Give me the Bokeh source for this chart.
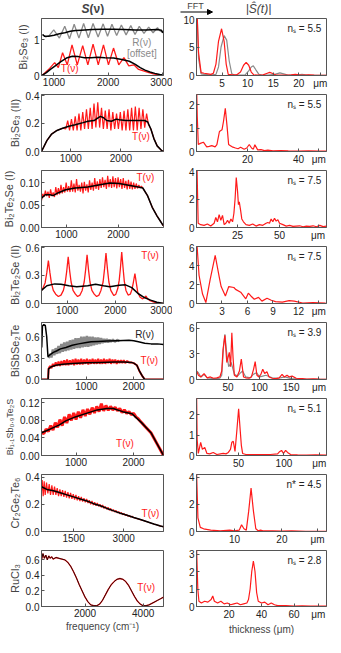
from bokeh.plotting import figure
from bokeh.layouts import gridplot, column
from bokeh.models import FixedTicker, NumeralTickFormatter, Label, Arrow, NormalHead
from bokeh.embed import file_html
from bokeh.resources import INLINE
from bokeh.core.properties import value

FONT = "Liberation Sans"
RED = "#ff1a1a"
GRAY = "#8a8a8a"

# ---------------- Panel 1 : Bi2Se3 (I) ----------------
p1_T_x = [780, 850, 920, 1013, 1080, 1159, 1245, 1333, 1430, 1530, 1625, 1721, 1817, 1913, 2005, 2098, 2195, 2290, 2380, 2474, 2560, 2650, 2750, 2850, 2950, 3010]
p1_T_y = [0.0, 0.1, 0.2, 0.36, 0.22, 0.64, 0.3, 0.86, 0.3, 0.84, 0.3, 0.88, 0.3, 0.86, 0.3, 0.77, 0.3, 0.5, 0.27, 0.3, 0.17, 0.13, 0.08, 0.04, 0.02, 0.01]
p1_Tfit_x = [780, 860, 940, 1030, 1120, 1230, 1340, 1450, 1560, 1680, 1810, 1940, 2100, 2250, 2390, 2500, 2590, 2680, 2770, 2860, 2950, 3010]
p1_Tfit_y = [0.0, 0.08, 0.18, 0.28, 0.38, 0.49, 0.54, 0.53, 0.5, 0.5, 0.51, 0.5, 0.49, 0.45, 0.4, 0.31, 0.22, 0.15, 0.1, 0.06, 0.03, 0.02]
p1_R_x = [790, 850, 910, 996, 1100, 1199, 1286, 1373, 1460, 1547, 1634, 1721, 1814, 1907, 1988, 2069, 2156, 2243, 2330, 2417, 2495, 2573, 2660, 2747, 2828, 2909, 2960, 3010]
p1_R_y = [1.15, 1.08, 1.12, 1.28, 1.05, 1.38, 1.03, 1.44, 1.05, 1.46, 1.06, 1.46, 1.08, 1.45, 1.1, 1.44, 1.12, 1.42, 1.14, 1.4, 1.15, 1.38, 1.18, 1.36, 1.2, 1.34, 1.25, 1.2]
p1_Rfit_x = [790, 830, 900, 1000, 1100, 1200, 1300, 1400, 1500, 1700, 1900, 2100, 2300, 2500, 2700, 2900, 2980, 3010]
p1_Rfit_y = [1.15, 1.1, 1.1, 1.13, 1.17, 1.2, 1.24, 1.26, 1.27, 1.29, 1.3, 1.3, 1.29, 1.28, 1.28, 1.29, 1.27, 1.2]
f1_x = [0, 0.4, 0.9, 1.5, 2.2, 2.8, 3.3, 3.8, 4.3, 4.9, 5.4, 5.8, 6.2, 7, 7.8, 8.6, 9.2, 9.7, 10.2, 10.7, 11.2, 12, 13, 13.7, 14.3, 14.9, 15.6, 16.5, 17.5, 18.5, 19.3, 20.1, 21, 22, 23, 24, 25.4]
f1_y = [14, 4, 0.5, 0.4, 0.3, 0.2, 0.4, 2.0, 6.0, 8.2, 6.0, 2.0, 0.2, 0.1, 0.1, 0.6, 1.8, 2.3, 1.8, 0.6, 0.1, 0.05, 0.1, 0.35, 0.55, 0.35, 0.05, 0.05, 0.05, 0.1, 0.2, 0.1, 0.05, 0.1, 0.05, 0.03, 0.02]
f1g_x = [0, 0.4, 0.9, 1.5, 2.2, 3, 3.8, 4.3, 4.8, 5.4, 5.9, 6.4, 6.9, 7.5, 8.5, 9.5, 10.2, 10.7, 11.1, 11.6, 12.2, 13, 14, 15.3, 16.3, 17.2, 18, 19, 20, 20.6, 21.3, 22, 23, 25.4]
f1g_y = [14, 3, 0.3, 0.2, 0.15, 0.1, 0.2, 1.5, 5.0, 7.0, 6.2, 2.5, 0.3, 0.05, 0.05, 0.1, 0.8, 1.5, 1.7, 1.0, 0.2, 0.05, 0.05, 0.2, 0.45, 0.25, 0.05, 0.05, 0.1, 0.2, 0.1, 0.05, 0.03, 0.02]

# ---------------- Panel 2 : Bi2Se3 (II) ----------------
p2_T_x = [415, 522, 617, 711, 836, 900, 938, 975, 1013, 1050, 1088, 1125, 1163, 1200, 1238, 1275, 1313, 1350, 1388, 1425, 1463, 1500, 1538, 1575, 1613, 1650, 1688, 1725, 1763, 1800, 1838, 1875, 1913, 1950, 1988, 2025, 2063, 2100, 2138, 2175, 2213, 2250, 2288, 2325, 2363, 2400, 2438, 2475, 2513, 2550, 2598, 2660, 2723, 2817, 2850]
p2_T_y = [0.0, 0.077, 0.124, 0.147, 0.165, 0.16, 0.22, 0.15, 0.23, 0.15, 0.25, 0.15, 0.27, 0.15, 0.28, 0.16, 0.3, 0.16, 0.31, 0.16, 0.34, 0.17, 0.35, 0.17, 0.31, 0.16, 0.29, 0.16, 0.3, 0.15, 0.28, 0.16, 0.27, 0.16, 0.28, 0.15, 0.29, 0.15, 0.3, 0.15, 0.31, 0.15, 0.32, 0.15, 0.31, 0.16, 0.3, 0.17, 0.27, 0.19, 0.16, 0.09, 0.04, 0.005, 0.0]
p2_fit_x = [415, 522, 617, 711, 836, 962, 1088, 1245, 1340, 1465, 1528, 1591, 1654, 1717, 1811, 1906, 1968, 2094, 2283, 2472, 2535, 2598, 2660, 2723, 2817, 2850]
p2_fit_y = [0.0, 0.077, 0.124, 0.147, 0.165, 0.18, 0.19, 0.205, 0.215, 0.22, 0.235, 0.25, 0.24, 0.22, 0.215, 0.23, 0.225, 0.22, 0.22, 0.22, 0.21, 0.16, 0.09, 0.04, 0.005, 0.0]
f2_x = [0, 0.3, 0.7, 1.5, 2.7, 4, 5, 6, 7.3, 8, 9, 10, 10.6, 11.3, 12, 12.6, 13.3, 14, 15.3, 16.3, 17.3, 18.7, 19.7, 20.7, 21.6, 22.3, 22.9, 24, 25.3, 26.7, 28, 30, 33, 36, 40, 44, 48, 51]
f2_y = [3.0, 1.5, 0.3, 0.35, 0.4, 0.2, 0.22, 0.25, 0.2, 0.3, 0.86, 0.93, 1.3, 1.86, 1.07, 0.3, 0.25, 0.2, 0.15, 0.12, 0.18, 0.1, 0.15, 0.3, 0.15, 0.1, 0.29, 0.07, 0.08, 0.04, 0.06, 0.03, 0.04, 0.03, 0.02, 0.03, 0.02, 0.02]

# ---------------- Panel 3 : Bi2Te2Se (I) ----------------
p3_T_x = [520, 545, 570, 595, 620, 645, 670, 695, 720, 745, 770, 795, 820, 845, 870, 895, 920, 945, 970, 995, 1020, 1045, 1070, 1095, 1120, 1145, 1170, 1195, 1220, 1245, 1270, 1295, 1320, 1345, 1370, 1395, 1420, 1445, 1470, 1495, 1520, 1545, 1570, 1595, 1620, 1645, 1670, 1695, 1720, 1745, 1770, 1795, 1820, 1845, 1870, 1895, 1920, 1945, 1970, 1995, 2020, 2045, 2070, 2095, 2120, 2145, 2170, 2195, 2220, 2245, 2270, 2295, 2320, 2345, 2370, 2395, 2420, 2445, 2471, 2562, 2653, 2744, 2805, 2865]
p3_T_y = [0.06, 0.075, 0.068, 0.082, 0.07, 0.08, 0.066, 0.085, 0.07, 0.078, 0.068, 0.09, 0.072, 0.088, 0.074, 0.095, 0.076, 0.09, 0.078, 0.1, 0.08, 0.092, 0.079, 0.105, 0.08, 0.098, 0.078, 0.108, 0.082, 0.095, 0.08, 0.1, 0.076, 0.102, 0.082, 0.096, 0.078, 0.105, 0.084, 0.1, 0.082, 0.11, 0.086, 0.103, 0.084, 0.108, 0.088, 0.112, 0.09, 0.106, 0.086, 0.115, 0.09, 0.108, 0.088, 0.114, 0.09, 0.11, 0.087, 0.112, 0.09, 0.108, 0.086, 0.11, 0.088, 0.104, 0.085, 0.106, 0.086, 0.102, 0.085, 0.1, 0.086, 0.098, 0.087, 0.095, 0.088, 0.092, 0.088, 0.071, 0.045, 0.026, 0.015, 0.004]
p3_fit_x = [515, 593, 684, 744, 835, 987, 1169, 1411, 1593, 1835, 2016, 2198, 2380, 2471, 2562, 2653, 2744, 2805, 2865]
p3_fit_y = [0.065, 0.073, 0.073, 0.071, 0.077, 0.084, 0.088, 0.09, 0.094, 0.099, 0.098, 0.094, 0.09, 0.088, 0.071, 0.045, 0.026, 0.015, 0.004]
f3_x = [0.5, 0.8, 1.5, 3, 5, 7, 9, 11, 12, 13, 14, 15, 16, 17, 18, 19, 20, 21, 22, 22.8, 23.5, 24.2, 25, 25.5, 26, 26.8, 27.5, 28.5, 30, 32, 34, 36, 38, 40, 42, 43, 44, 45, 46, 47, 48, 49, 50, 52, 54, 56, 58, 60, 62, 64, 66, 68, 70, 72, 74, 76, 78]
f3_y = [4.5, 4.2, 0.3, 0.2, 0.15, 0.25, 0.1, 0.3, 0.7, 0.4, 0.9, 0.5, 0.85, 0.2, 0.3, 0.5, 0.3, 0.6, 0.4, 1.0, 2.0, 3.5, 2.5, 1.6, 1.8, 1.2, 0.6, 0.4, 0.2, 0.15, 0.25, 0.1, 0.2, 0.15, 0.3, 0.35, 0.3, 0.6, 0.4, 0.65, 0.45, 0.55, 0.3, 0.2, 0.1, 0.15, 0.08, 0.1, 0.12, 0.05, 0.1, 0.08, 0.12, 0.05, 0.15, 0.06, 0.1]

# ---------------- Panel 4 : Bi2Te2Se (II) ----------------
p4_T_x = [465, 500, 540, 575, 608, 640, 670, 710, 760, 815, 870, 920, 960, 990, 1020, 1050, 1080, 1120, 1170, 1215, 1265, 1310, 1352, 1382, 1412, 1442, 1472, 1512, 1560, 1610, 1660, 1700, 1745, 1775, 1805, 1835, 1865, 1905, 1950, 1970, 2010, 2050, 2080, 2105, 2132, 2160, 2185, 2220, 2265, 2310, 2345, 2375, 2406, 2435, 2465, 2510, 2560, 2600, 2636, 2670, 2720, 2800, 2900, 3000]
p4_T_y = [0.14, 0.17, 0.22, 0.33, 0.46, 0.33, 0.22, 0.14, 0.1, 0.075, 0.09, 0.14, 0.23, 0.35, 0.5, 0.35, 0.23, 0.14, 0.1, 0.075, 0.09, 0.14, 0.23, 0.36, 0.52, 0.36, 0.23, 0.14, 0.1, 0.075, 0.09, 0.14, 0.23, 0.37, 0.54, 0.37, 0.23, 0.14, 0.1, 0.085, 0.1, 0.16, 0.25, 0.38, 0.55, 0.38, 0.24, 0.14, 0.09, 0.1, 0.15, 0.23, 0.32, 0.22, 0.12, 0.07, 0.05, 0.06, 0.08, 0.05, 0.03, 0.015, 0.005, 0.0]
p4_fit_x = [465, 576, 739, 870, 1034, 1197, 1426, 1589, 1753, 1883, 2079, 2210, 2341, 2471, 2602, 2733, 2863, 2981, 3000]
p4_fit_y = [0.14, 0.19, 0.21, 0.207, 0.19, 0.18, 0.19, 0.207, 0.19, 0.18, 0.196, 0.2, 0.17, 0.107, 0.064, 0.036, 0.014, 0.004, 0.003]
f4_x = [0, 0.3, 0.71, 1.1, 1.6, 2.2, 2.7, 2.9, 3.4, 3.8, 4.4, 4.6, 5.2, 5.8, 6.1, 6.4, 6.8, 7.3, 7.7, 8.3, 8.8, 9.3, 10.1, 10.9, 11.5, 12.5, 13.7, 15.2]
f4_y = [7, 3, 1.0, 0.1, 2.5, 5.1, 2.7, 1.8, 0.8, 1.8, 1.7, 1.5, 1.2, 0.5, 1.1, 0.8, 0.45, 0.65, 0.25, 0.55, 0.35, 0.2, 0.15, 0.3, 0.25, 0.05, 0.1, 0.05]

# ---------------- Panel 5 : BiSbSe2Te ----------------
p5_R_x = [200, 230, 260, 290, 320, 350, 380, 410, 440, 470, 500, 530, 560, 590, 620, 650, 680, 710, 740, 770, 800, 830, 860, 890, 920, 950, 980, 1010, 1040, 1070, 1100, 1130, 1160, 1190, 1220, 1250, 1280, 1310, 1340, 1370, 1400, 1430, 1460, 1490, 1520, 1560, 1600, 1650, 1700]
p5_R_y = [0.3, 0.36, 0.31, 0.42, 0.34, 0.44, 0.36, 0.47, 0.37, 0.5, 0.39, 0.52, 0.4, 0.53, 0.41, 0.55, 0.42, 0.56, 0.43, 0.58, 0.44, 0.58, 0.44, 0.6, 0.45, 0.6, 0.46, 0.61, 0.46, 0.6, 0.47, 0.6, 0.48, 0.59, 0.49, 0.59, 0.5, 0.58, 0.51, 0.57, 0.52, 0.57, 0.52, 0.56, 0.53, 0.56, 0.53, 0.555, 0.54]
p5_Rfit_x = [55, 70, 100, 130, 160, 187, 234, 300, 367, 450, 567, 700, 834, 1000, 1100, 1250, 1434, 1650, 1900, 2000, 2100, 2234, 2367, 2500, 2630]
p5_Rfit_y = [0.45, 0.75, 0.77, 0.76, 0.6, 0.32, 0.35, 0.38, 0.4, 0.43, 0.45, 0.48, 0.5, 0.52, 0.53, 0.535, 0.54, 0.545, 0.55, 0.545, 0.53, 0.51, 0.5, 0.5, 0.49]
p5_T_x = [50, 190, 200, 230, 260, 290, 320, 350, 380, 410, 440, 470, 500, 530, 560, 590, 620, 650, 680, 710, 740, 770, 800, 830, 860, 890, 920, 950, 980, 1010, 1040, 1070, 1100, 1130, 1160, 1190, 1220, 1250, 1280, 1310, 1340, 1370, 1400, 1430, 1460, 1490, 1520, 1550, 1580, 1610, 1640, 1670, 1700, 1730, 1760, 1790, 1820, 1860, 1900, 1950, 2000, 2067, 2120, 2180, 2234, 2630]
p5_T_y = [0.0, 0.0, 0.15, 0.19, 0.16, 0.22, 0.18, 0.24, 0.19, 0.25, 0.19, 0.26, 0.2, 0.27, 0.2, 0.28, 0.2, 0.27, 0.21, 0.28, 0.2, 0.29, 0.21, 0.28, 0.21, 0.29, 0.21, 0.28, 0.22, 0.29, 0.21, 0.28, 0.22, 0.29, 0.22, 0.28, 0.22, 0.29, 0.22, 0.28, 0.22, 0.29, 0.22, 0.28, 0.23, 0.29, 0.22, 0.28, 0.23, 0.28, 0.22, 0.27, 0.23, 0.27, 0.23, 0.27, 0.23, 0.26, 0.24, 0.24, 0.23, 0.2, 0.12, 0.05, 0.0, 0.0]
p5_Tfit_x = [50, 190, 200, 260, 350, 500, 700, 1000, 1300, 1600, 1800, 1950, 2000, 2067, 2120, 2180, 2234, 2630]
p5_Tfit_y = [0.0, 0.0, 0.15, 0.18, 0.2, 0.215, 0.225, 0.235, 0.24, 0.245, 0.245, 0.24, 0.23, 0.2, 0.12, 0.05, 0.0, 0.0]
f5_x = [0, 3, 7, 12, 17, 22, 27, 32, 37, 40, 42, 45, 48, 52, 54, 56, 58, 60, 64, 68, 71, 74.5, 78, 83, 87, 90.4, 93, 95.7, 99, 102, 105, 108, 111.6, 115, 120, 126, 131, 135.6, 139, 143.5, 147, 151.5, 158, 167.5, 175, 185, 195, 206]
f5_y = [1.0, 0.5, 0.3, 0.7, 0.2, 0.3, 0.15, 0.2, 0.3, 1.0, 3.5, 5.2, 2.0, 3.2, 1.5, 5.5, 2.5, 0.5, 0.3, 1.0, 2.4, 0.3, 0.2, 0.15, 0.3, 1.2, 2.1, 0.5, 0.3, 0.6, 1.2, 0.7, 0.9, 0.3, 0.15, 0.1, 0.2, 0.6, 0.3, 0.5, 0.3, 0.4, 0.15, 0.1, 0.05, 0.08, 0.04, 0.03]
f5g_x = [0, 3, 7, 12, 17, 22, 27, 32, 37, 40, 43, 45, 48, 51, 55, 60, 65, 70, 73, 78, 85, 90, 95, 100, 105, 110, 120, 130, 140, 150, 170, 206]
f5g_y = [1.0, 0.8, 0.3, 0.6, 0.2, 0.15, 0.1, 0.1, 0.15, 0.5, 4.0, 5.3, 3.0, 1.5, 2.0, 0.6, 0.4, 0.8, 1.0, 0.3, 0.2, 0.6, 0.8, 0.3, 0.4, 0.5, 0.2, 0.15, 0.3, 0.1, 0.05, 0.03]

# ---------------- Panel 6 : Bi1.1Sb0.9Te2S ----------------
p6_T_x = [400, 440, 480, 520, 560, 600, 640, 680, 720, 760, 800, 840, 880, 920, 960, 1000, 1040, 1080, 1120, 1160, 1200, 1240, 1280, 1320, 1360, 1400, 1440, 1480, 1520, 1560, 1600, 1640, 1680, 1720, 1760, 1800, 1840, 1880, 1920, 1960, 2000, 2040, 2080, 2138, 2200, 2302, 2411, 2520]
p6_T_y = [0.053, 0.05, 0.06, 0.055, 0.068, 0.058, 0.075, 0.064, 0.082, 0.068, 0.088, 0.074, 0.094, 0.08, 0.097, 0.082, 0.1, 0.086, 0.104, 0.09, 0.106, 0.094, 0.109, 0.097, 0.112, 0.1, 0.118, 0.102, 0.114, 0.103, 0.112, 0.104, 0.11, 0.102, 0.107, 0.098, 0.104, 0.096, 0.1, 0.093, 0.096, 0.088, 0.084, 0.075, 0.066, 0.052, 0.026, 0.0]
p6_fit_x = [400, 548, 712, 822, 987, 1151, 1370, 1535, 1645, 1810, 1974, 2138, 2302, 2411, 2520]
p6_fit_y = [0.052, 0.06, 0.07, 0.079, 0.088, 0.095, 0.104, 0.107, 0.107, 0.1, 0.095, 0.075, 0.052, 0.026, 0.0]
f6_x = [3.6, 4.2, 5.5, 8.1, 10, 12.6, 15, 18, 22, 26, 30, 33, 36, 38.6, 41, 42.5, 44.1, 46, 48, 50, 51.8, 53, 54.4, 58, 65, 75, 85, 93, 95.5, 97.4, 99.5, 101.9, 104, 107.4, 115, 125, 135, 147]
f6_y = [3.0, 0.8, 0.1, 0.65, 0.3, 0.4, 0.1, 0.08, 0.15, 0.05, 0.08, 0.1, 0.08, 0.15, 0.3, 0.65, 0.7, 0.2, 1.2, 2.3, 1.2, 0.5, 0.1, 0.05, 0.05, 0.04, 0.05, 0.08, 0.2, 0.25, 0.1, 0.25, 0.15, 0.05, 0.03, 0.02, 0.03, 0.02]

# ---------------- Panel 7 : Cr2Ge2Te6 ----------------
p7_T_x = [540, 560, 590, 620, 650, 690, 730, 770, 810, 850, 890, 930, 970, 1010, 1050, 1090, 1130, 1170, 1210, 1250, 1290, 1330, 1370, 1410, 1450, 1490, 1530, 1570, 1610, 1650, 1690, 1730, 1770, 1810, 1850, 1890, 1930, 1970, 2010, 2050, 2090, 2130, 2170, 2210, 2250, 2290, 2330, 2370, 2410, 2450, 2490, 2530, 2570, 2610, 2650, 2690, 2730, 2770, 2810, 2850, 2890, 2930, 2970, 3010, 3050, 3090, 3130, 3170, 3210, 3250, 3300, 3400, 3500, 3600, 3700, 3800, 3900, 4000, 4100, 4190]
p7_T_y = [0.3, 0.38, 0.26, 0.37, 0.27, 0.36, 0.28, 0.35, 0.27, 0.34, 0.27, 0.33, 0.27, 0.32, 0.26, 0.31, 0.26, 0.305, 0.255, 0.3, 0.25, 0.29, 0.245, 0.285, 0.24, 0.275, 0.235, 0.27, 0.23, 0.26, 0.225, 0.255, 0.22, 0.245, 0.215, 0.24, 0.21, 0.23, 0.2, 0.225, 0.195, 0.215, 0.19, 0.21, 0.185, 0.2, 0.178, 0.195, 0.17, 0.185, 0.163, 0.178, 0.157, 0.17, 0.15, 0.162, 0.143, 0.155, 0.137, 0.147, 0.13, 0.14, 0.124, 0.132, 0.118, 0.125, 0.112, 0.118, 0.107, 0.112, 0.102, 0.095, 0.088, 0.08, 0.072, 0.063, 0.055, 0.048, 0.04, 0.035]
p7_fit_x = [540, 700, 900, 1100, 1300, 1500, 1700, 1900, 2100, 2300, 2500, 2700, 2900, 3100, 3300, 3500, 3700, 3900, 4100, 4190]
p7_fit_y = [0.33, 0.31, 0.3, 0.285, 0.27, 0.255, 0.24, 0.225, 0.205, 0.19, 0.17, 0.152, 0.135, 0.12, 0.103, 0.088, 0.072, 0.055, 0.04, 0.035]
f7_x = [2, 2.3, 2.8, 3.5, 5, 7, 9, 10, 11, 11.5, 12, 12.5, 13, 13.5, 14, 14.5, 15, 15.5, 16, 18, 20, 22, 25, 29.4]
f7_y = [4.5, 1, 0.3, 0.2, 0.1, 0.05, 0.1, 0.05, 0.1, 0.5, 0.2, 0.1, 1.5, 3.2, 1.5, 0.2, 0.05, 0.1, 0.05, 0.05, 0.03, 0.05, 0.02, 0.02]

# ---------------- Panel 8 : RuCl3 ----------------
p8_T_x = [500, 550, 600, 650, 700, 750, 800, 850, 900, 1000, 1100, 1200, 1300, 1400, 1500, 1600, 1700, 1800, 1900, 2000, 2100, 2200, 2300, 2400, 2500, 2600, 2700, 2800, 2900, 3000, 3100, 3200, 3300, 3400, 3500, 3600, 3700, 3800, 3900, 4000, 4100, 4200, 4300, 4400, 4500, 4600, 4700]
p8_T_y = [0.6, 0.68, 0.62, 0.66, 0.6, 0.65, 0.62, 0.64, 0.61, 0.63, 0.62, 0.61, 0.6, 0.57, 0.52, 0.45, 0.37, 0.28, 0.2, 0.12, 0.06, 0.02, 0.01, 0.01, 0.03, 0.08, 0.15, 0.22, 0.28, 0.32, 0.35, 0.36, 0.35, 0.32, 0.27, 0.2, 0.13, 0.07, 0.03, 0.01, 0.01, 0.02, 0.04, 0.06, 0.08, 0.1, 0.12]
f8_x = [0, 0.8, 1.5, 3, 5, 7, 9, 10, 11, 13, 15, 17, 19, 21, 23, 25, 27, 29, 31, 32, 33, 34, 35, 36, 37, 38, 40, 42, 44, 46, 48, 50, 55, 60, 65, 70, 75, 80]
f8_y = [3.5, 1.0, 0.3, 0.2, 0.3, 0.25, 0.4, 0.6, 0.3, 0.2, 0.3, 0.15, 0.2, 0.1, 0.15, 0.2, 0.1, 0.15, 0.2, 0.4, 1.0, 2.0, 2.6, 2.0, 0.8, 0.3, 0.2, 0.25, 0.1, 0.2, 0.1, 0.05, 0.05, 0.03, 0.04, 0.02, 0.03, 0.02]

NAMES = ["Bi₂Se₃ (I)", "Bi₂Se₃ (II)", "Bi₂Te₂Se (I)", "Bi₂Te₂Se (II)", "BiSbSe₂Te",
         "Bi₁.₁Sb₀.₉Te₂S", "Cr₂Ge₂Te₆", "RuCl₃"]
NS = ["nₛ = 5.5", "nₛ = 5.5", "nₛ = 7.5", "nₛ = 7.5", "nₛ = 3.9", "nₛ = 5.1", "n* = 4.5", "nₛ = 2.8"]

LW, RW, RH, LH = 172, 161, 76, 90


def style(p, xt, yt, yfmt=None, xover=None):
    p.xaxis.ticker = FixedTicker(ticks=xt)
    p.yaxis.ticker = FixedTicker(ticks=yt)
    if yfmt:
        p.yaxis.formatter = NumeralTickFormatter(format=yfmt)
    if xover:
        p.xaxis.major_label_overrides = xover
    for ax in (p.xaxis[0], p.yaxis[0]):
        ax.major_tick_in = 3
        ax.major_tick_out = 0
        ax.minor_tick_in = 0
        ax.minor_tick_out = 0
        ax.major_label_standoff = 2
        ax.major_label_text_font = FONT
        ax.major_label_text_font_size = "10px"
        ax.major_label_text_color = "#222222"
        ax.axis_line_color = "#555555"
        ax.major_tick_line_color = "#555555"
        ax.axis_label_text_font = FONT
        ax.axis_label_text_font_style = "normal"
        ax.axis_label_text_font_size = "11px"
        ax.axis_label_standoff = 2
    p.xgrid.visible = False
    p.ygrid.visible = False
    p.outline_line_color = "#555555"
    p.background_fill_color = "white"


def mk(col, xr, yr, last=False):
    w = LW if col == 0 else RW
    h = LH if last else RH
    p = figure(width=w, height=h, x_range=xr, y_range=yr, output_backend="svg",
               toolbar_location=None,
               min_border_left=36 if col == 0 else 24,
               min_border_right=9 if col == 0 else 7,
               min_border_top=3, min_border_bottom=29 if last else 15)
    return p


def txt(p, x, y, s, color, align="center", size="10px"):
    p.add_layout(Label(x=x, y=y, text=s, text_color=color, text_font=FONT,
                       text_font_size=size, text_align=align, text_baseline="middle"))


def ns_label(p, i, xr, yr):
    p.add_layout(Label(x=xr[1] - 0.04 * (xr[1] - xr[0]), y=yr[1] - 0.08 * (yr[1] - yr[0]),
                       text=NS[i], text_font=FONT, text_font_size="10px",
                       text_align="right", text_baseline="top", text_color="#222222"))


rows = []

# Row 1
xr, yr = (770, 3020), (0, 1.6)
a = mk(0, xr, yr)
a.line(p1_R_x, p1_R_y, color=GRAY, line_width=1.3)
a.line(p1_Rfit_x, p1_Rfit_y, color="black", line_width=1.5)
a.line(p1_T_x, p1_T_y, color=RED, line_width=1.3)
a.line(p1_Tfit_x, p1_Tfit_y, color="black", line_width=1.5)
style(a, [1000, 2000, 3000], [0, 1])
a.yaxis.axis_label = NAMES[0]
txt(a, 2620, 0.93, "R(ν)", GRAY)
txt(a, 2620, 0.63, "[offset]", GRAY)
txt(a, 1290, 0.19, "T(ν)", RED)
xr2, yr2 = (0, 25.4), (0, 10)
b = mk(1, xr2, yr2)
b.line(f1g_x, f1g_y, color=GRAY, line_width=1.2)
b.line(f1_x, f1_y, color=RED, line_width=1.2)
style(b, [5, 10, 15, 20, 24.2], [0, 5, 10], xover={24.2: "μm"})
ns_label(b, 0, xr2, yr2)
rows.append([a, b])

# Row 2
xr, yr = (415, 2850), (0, 0.405)
a = mk(0, xr, yr)
a.line(p2_T_x, p2_T_y, color=RED, line_width=1.2)
a.line(p2_fit_x, p2_fit_y, color="black", line_width=1.5)
style(a, [1000, 2000], [0, 0.2, 0.4], yfmt="0.0")
a.yaxis.axis_label = NAMES[1]
txt(a, 2400, 0.11, "T(ν)", RED)
xr2, yr2 = (0, 51), (0, 2.45)
b = mk(1, xr2, yr2)
b.line(f2_x, f2_y, color=RED, line_width=1.2)
style(b, [20, 40, 48], [0, 1, 2], xover={48: "μm"})
ns_label(b, 1, xr2, yr2)
rows.append([a, b])

# Row 3
xr, yr = (520, 2870), (0, 0.127)
a = mk(0, xr, yr)
a.line(p3_T_x, p3_T_y, color=RED, line_width=1.2)
a.line(p3_fit_x, p3_fit_y, color="black", line_width=1.5)
style(a, [1000, 2000], [0, 0.05, 0.1], yfmt="0.00")
a.yaxis.axis_label = NAMES[2]
txt(a, 2520, 0.112, "T(ν)", RED)
xr2, yr2 = (0.5, 78), (0, 4)
b = mk(1, xr2, yr2)
b.line(f3_x, f3_y, color=RED, line_width=1.2)
style(b, [25, 50, 73], [0, 2, 4], xover={73: "μm"})
ns_label(b, 2, xr2, yr2)
rows.append([a, b])

# Row 4
xr, yr = (465, 3000), (0, 0.61)
a = mk(0, xr, yr)
a.line(p4_T_x, p4_T_y, color=RED, line_width=1.3)
a.line(p4_fit_x, p4_fit_y, color="black", line_width=1.5)
style(a, [1000, 2000, 3000], [0, 0.3, 0.6], yfmt="0.0")
a.yaxis.axis_label = NAMES[3]
txt(a, 2720, 0.51, "T(ν)", RED)
xr2, yr2 = (0, 15.3), (0, 6.05)
b = mk(1, xr2, yr2)
b.line(f4_x, f4_y, color=RED, line_width=1.2)
style(b, [3, 6, 9, 12, 14.4], [0, 2, 4, 6], xover={14.4: "μm"})
ns_label(b, 3, xr2, yr2)
rows.append([a, b])

# Row 5
xr, yr = (50, 2630), (0, 0.8)
a = mk(0, xr, yr)
a.line(p5_R_x, p5_R_y, color=GRAY, line_width=2.5)
a.line(p5_Rfit_x, p5_Rfit_y, color="black", line_width=1.5)
a.line(p5_T_x, p5_T_y, color=RED, line_width=2.0)
a.line(p5_Tfit_x, p5_Tfit_y, color="black", line_width=1.5)
style(a, [1000, 2000], [0, 0.3, 0.6], yfmt="0.0")
a.yaxis.axis_label = NAMES[4]
txt(a, 2230, 0.63, "R(ν)", "#222222")
txt(a, 2330, 0.27, "T(ν)", RED)
xr2, yr2 = (0, 206), (0, 6.7)
b = mk(1, xr2, yr2)
b.line(f5g_x, f5g_y, color=GRAY, line_width=1.2)
b.line(f5_x, f5_y, color=RED, line_width=1.2)
style(b, [50, 100, 150, 194], [0, 3, 6], xover={194: "μm"})
ns_label(b, 4, xr2, yr2)
rows.append([a, b])

# Row 6
xr, yr = (400, 2520), (0, 0.13)
a = mk(0, xr, yr)
a.line(p6_T_x, p6_T_y, color=RED, line_width=3.0)
a.line(p6_fit_x, p6_fit_y, color="black", line_width=1.5)
style(a, [1000, 2000], [0, 0.04, 0.08, 0.12], yfmt="0.00")
a.yaxis.axis_label = NAMES[5]
a.yaxis.axis_label_text_font_size = "9px"
txt(a, 1850, 0.027, "T(ν)", RED)
xr2, yr2 = (3.5, 147), (0, 2.8)
b = mk(1, xr2, yr2)
b.line(f6_x, f6_y, color=RED, line_width=1.2)
style(b, [50, 100, 139], [0, 1, 2], xover={139: "μm"})
ns_label(b, 5, xr2, yr2)
rows.append([a, b])

# Row 7
xr, yr = (540, 4190), (0, 0.42)
a = mk(0, xr, yr)
a.line(p7_T_x, p7_T_y, color=RED, line_width=1.2)
a.line(p7_fit_x, p7_fit_y, color="black", line_width=1.5)
style(a, [1500, 3000], [0, 0.2, 0.4], yfmt="0.0")
a.yaxis.axis_label = NAMES[6]
txt(a, 3800, 0.13, "T(ν)", RED)
xr2, yr2 = (2, 29.4), (0, 4.2)
b = mk(1, xr2, yr2)
b.line(f7_x, f7_y, color=RED, line_width=1.2)
style(b, [10, 20, 27.5], [0, 2, 4], xover={27.5: "μm"})
ns_label(b, 6, xr2, yr2)
rows.append([a, b])

# Row 8
xr, yr = (500, 4700), (0, 0.72)
a = mk(0, xr, yr, last=True)
a.line(p8_T_x, p8_T_y, color=RED, line_width=1.3)
a.line(p8_T_x, p8_T_y, color="black", line_width=0.8)
style(a, [2000, 4000], [0, 0.2, 0.4, 0.6], yfmt="0.0")
a.yaxis.axis_label = NAMES[7]
a.xaxis.axis_label = "frequency (cm⁻¹)"
a.xaxis.axis_label_text_font_size = "10px"
a.xaxis.axis_label_standoff = 1
txt(a, 4100, 0.25, "T(ν)", RED)
xr2, yr2 = (0, 80), (0, 3.2)
b = mk(1, xr2, yr2, last=True)
b.line(f8_x, f8_y, color=RED, line_width=1.2)
style(b, [20, 40, 60, 75], [0, 1, 2, 3], xover={75: "μm"})
b.xaxis.axis_label = "thickness (μm)"
b.xaxis.axis_label_text_font_size = "10px"
b.xaxis.axis_label_standoff = 1
ns_label(b, 7, xr2, yr2)
rows.append([a, b])

# Header
hdr = figure(width=LW + RW, height=15, x_range=(0, LW + RW), y_range=(0, 15),
             output_backend="svg", toolbar_location=None, min_border=0,
             x_axis_type=None, y_axis_type=None)
hdr.grid.visible = False
hdr.outline_line_color = None
hdr.add_layout(Label(x=89, y=7, text="S", text_font=FONT, text_font_size="12px",
                     text_font_style="bold italic", text_align="right", text_baseline="middle"))
hdr.add_layout(Label(x=89, y=7, text="(ν)", text_font=FONT, text_font_size="12px",
                     text_font_style="bold", text_align="left", text_baseline="middle"))
hdr.add_layout(Label(x=195, y=10, text="FFT", text_font=FONT, text_font_size="9px",
                     text_align="center", text_baseline="middle"))
hdr.add_layout(Arrow(end=NormalHead(size=5, fill_color="black", line_color="black"),
                     x_start=180, y_start=3.5, x_end=212, y_end=3.5, line_width=1.2))
hdr.add_layout(Label(x=258, y=7, text="|Ŝ(t)|", text_font=FONT, text_font_size="12px",
                     text_font_style="italic", text_align="center", text_baseline="middle"))

grid = gridplot(rows, toolbar_location=None)
layout = column(hdr, grid)
open("out.html", "w").write(file_html(layout, INLINE))
